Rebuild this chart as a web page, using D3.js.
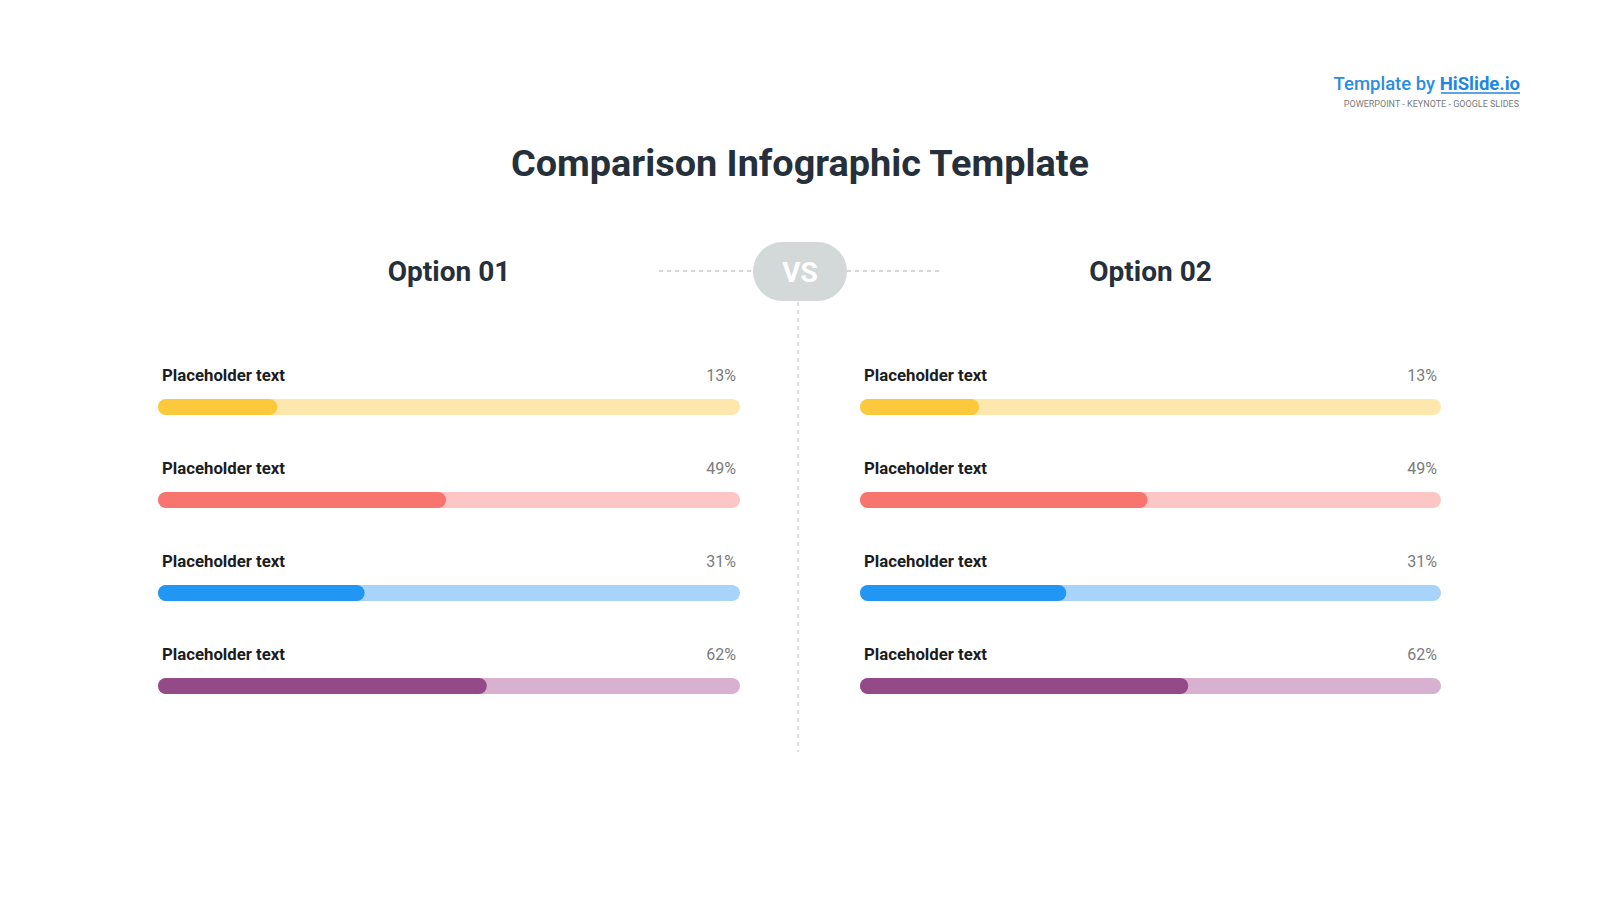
<!DOCTYPE html>
<html>
<head>
<meta charset="utf-8">
<script src="https://cdn.jsdelivr.net/npm/d3@7"></script>
<style>
  html, body { margin: 0; padding: 0; background: #ffffff; }
  svg { display: block; }
</style>
</head>
<body>
<svg id="chart" width="1600" height="900"></svg>
<script>
// ---- data ----
const title = "Comparison Infographic Template";
const options = ["Option 01", "Option 02"];
const categories = ["Placeholder text", "Placeholder text", "Placeholder text", "Placeholder text"];
const labelValues1 = ["13%", "49%", "31%", "62%"];
const labelValues2 = ["13%", "49%", "31%", "62%"];
// bar fill fractions as drawn in the picture
const fillValues1 = [0.205, 0.495, 0.355, 0.565];
const fillValues2 = [0.205, 0.495, 0.355, 0.565];
const fillColors = ["#fcc83c", "#f7756e", "#2196f3", "#934a86"];
const trackColors = ["#fee7ad", "#fbc6c3", "#a7d4f8", "#d8b1d0"];

const svg = d3.select("#chart");
const font = "Roboto, 'Noto Sans', sans-serif";

// brand
svg.append("text")
  .attr("x", 1520).attr("y", 90)
  .attr("text-anchor", "end")
  .attr("font-family", font).attr("font-size", 18.5).attr("font-weight", 500)
  .attr("fill", "#2c8ee0")
  .call(t => {
    t.append("tspan").text("Template by ");
    t.append("tspan").attr("font-weight", 700).attr("fill", "#1f87e0")
      .text("HiSlide.io");
  });
svg.append("line").attr("x1", 1441).attr("x2", 1520).attr("y1", 93).attr("y2", 93)
  .attr("stroke", "#1f87e0").attr("stroke-width", 1.6);
svg.append("text")
  .attr("x", 1519).attr("y", 107)
  .attr("text-anchor", "end")
  .attr("font-family", font).attr("font-size", 9)
  .attr("fill", "#7a7a7a")
  .text("POWERPOINT - KEYNOTE - GOOGLE SLIDES");

// title
svg.append("text")
  .attr("x", 800).attr("y", 176)
  .attr("text-anchor", "middle")
  .attr("font-family", font).attr("font-size", 36).attr("font-weight", 700)
  .attr("fill", "#25303a")
  .attr("textLength", 578).attr("lengthAdjust", "spacingAndGlyphs")
  .text(title);

// VS connector
svg.append("line").attr("x1", 659).attr("x2", 753).attr("y1", 271).attr("y2", 271)
  .attr("stroke", "#c9cccc").attr("stroke-width", 1.5).attr("stroke-dasharray", "4,4");
svg.append("line").attr("x1", 847).attr("x2", 940).attr("y1", 271).attr("y2", 271)
  .attr("stroke", "#c9cccc").attr("stroke-width", 1.5).attr("stroke-dasharray", "4,4");
svg.append("line").attr("x1", 798).attr("x2", 798).attr("y1", 302).attr("y2", 752)
  .attr("stroke", "#c9cccc").attr("stroke-width", 1.3).attr("stroke-dasharray", "4,4");
svg.append("rect").attr("x", 753).attr("y", 242).attr("width", 94).attr("height", 59)
  .attr("rx", 29.5).attr("fill", "#d3d8d8");
svg.append("text").attr("x", 800).attr("y", 281.5)
  .attr("text-anchor", "middle")
  .attr("font-family", font).attr("font-size", 28).attr("font-weight", 700)
  .attr("fill", "#ffffff").text("VS");

// panels
const panels = [
  { name: options[0], left: 158, right: 740, fills: fillValues1, labels: labelValues1 },
  { name: options[1], left: 860, right: 1441, fills: fillValues2, labels: labelValues2 }
];

const y = d3.scaleBand()
  .domain(d3.range(categories.length))
  .range([360, 732])
  .paddingInner(0).paddingOuter(0);

const barH = 16;

panels.forEach(p => {
  const x = d3.scaleLinear().domain([0, 1]).range([p.left, p.right]);
  const g = svg.append("g");

  g.append("text")
    .attr("x", (p.left + p.right) / 2).attr("y", 281)
    .attr("text-anchor", "middle")
    .attr("font-family", font).attr("font-size", 28).attr("font-weight", 700)
    .attr("fill", "#25303a")
    .text(p.name);

  const rows = g.selectAll("g.row").data(categories).join("g").attr("class", "row")
    .attr("transform", (d, i) => `translate(0,${y(i)})`);

  rows.append("text")
    .attr("x", x(0) + 4).attr("y", 21)
    .attr("font-family", font).attr("font-size", 16.5).attr("font-weight", 700)
    .attr("fill", "#1b1d20")
    .attr("textLength", 123).attr("lengthAdjust", "spacingAndGlyphs")
    .text(d => d);

  rows.append("text")
    .attr("x", x(1) - 4).attr("y", 21)
    .attr("text-anchor", "end")
    .attr("font-family", font).attr("font-size", 16)
    .attr("fill", "#7b7b7b")
    .text((d, i) => p.labels[i]);

  rows.append("rect")
    .attr("x", x(0)).attr("y", 47 - barH / 2)
    .attr("width", x(1) - x(0)).attr("height", barH)
    .attr("rx", barH / 2)
    .attr("fill", (d, i) => trackColors[i]);

  rows.append("rect")
    .attr("x", x(0)).attr("y", 47 - barH / 2)
    .attr("width", (d, i) => x(p.fills[i]) - x(0)).attr("height", barH)
    .attr("rx", barH / 2)
    .attr("fill", (d, i) => fillColors[i]);
});
</script>
</body>
</html>
